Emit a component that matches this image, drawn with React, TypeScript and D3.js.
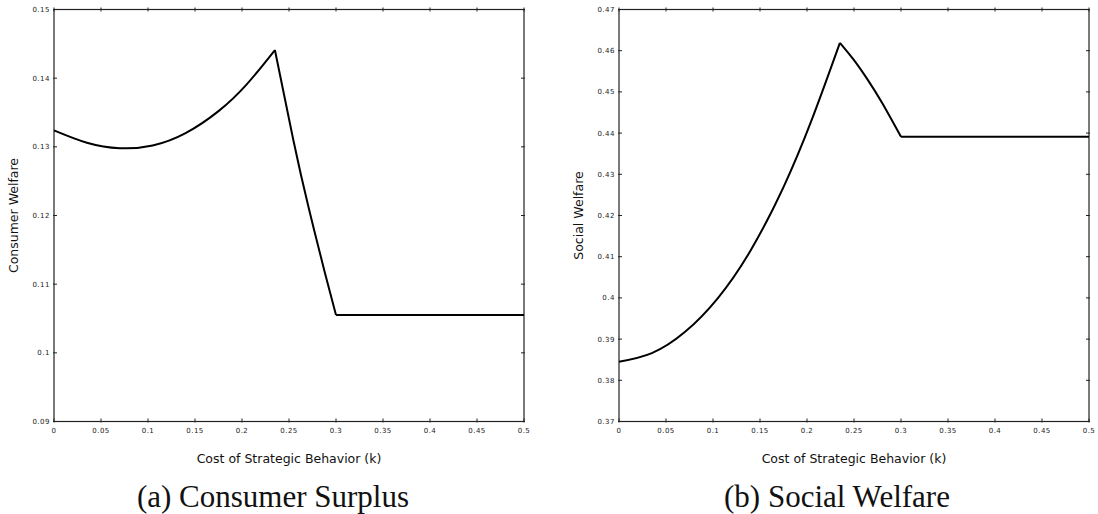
import React from 'react';
import * as d3 from 'd3';

// x axis (shared)
const kTicks = [0, 0.05, 0.1, 0.15, 0.2, 0.25, 0.3, 0.35, 0.4, 0.45, 0.5];
const kTickLabels = ['0', '0.05', '0.1', '0.15', '0.2', '0.25', '0.3', '0.35', '0.4', '0.45', '0.5'];

// y axes
const csTicks = [0.09, 0.1, 0.11, 0.12, 0.13, 0.14, 0.15];
const csTickLabels = ['0.09', '0.1', '0.11', '0.12', '0.13', '0.14', '0.15'];
const swTicks = [0.37, 0.38, 0.39, 0.4, 0.41, 0.42, 0.43, 0.44, 0.45, 0.46, 0.47];
const swTickLabels = ['0.37', '0.38', '0.39', '0.4', '0.41', '0.42', '0.43', '0.44', '0.45', '0.46', '0.47'];

// consumer surplus (three pieces: rise, drop, flat)
const csRiseK = [0, 0.035, 0.07, 0.105, 0.14, 0.175, 0.205, 0.235];
const csRise = [0.1324, 0.1306, 0.1298, 0.1302, 0.132, 0.1352, 0.1391, 0.1441];
const csFallK = [0.235, 0.2546, 0.2706, 0.2883, 0.3];
const csFall = [0.1441, 0.131, 0.1213, 0.1116, 0.1055];
const csFlatK = [0.3, 0.5];
const csFlat = [0.1055, 0.1055];

// social welfare
const swRiseK = [0, 0.035, 0.07, 0.105, 0.14, 0.175, 0.205, 0.235];
const swRise = [0.3845, 0.3866, 0.3917, 0.3999, 0.4115, 0.4269, 0.4432, 0.4619];
const swFallK = [0.235, 0.25, 0.265, 0.28, 0.3];
const swFall = [0.4619, 0.4577, 0.4528, 0.4473, 0.4391];
const swFlatK = [0.3, 0.5];
const swFlat = [0.4391, 0.4391];

type Seg = { k: number[]; v: number[] };

const tickFont = { fontFamily: 'DejaVu Sans', fontSize: 7, letterSpacing: 0.5, fill: '#222' };
const labelFont = { fontFamily: 'DejaVu Sans', fontSize: 12.5, fill: '#111' };

const Panel = ({ left, right, top, bottom, yDomain, yTicks, yTickLabels, yLabel, yLabelX, caption, captionX, segments }: any) => {
  const x = d3.scaleLinear().domain([0, 0.5]).range([left, right]);
  const y = d3.scaleLinear().domain(yDomain).range([bottom, top]);
  const line = d3.line<[number, number]>()
    .x(d => x(d[0]))
    .y(d => y(d[1]))
    .curve(d3.curveNatural);

  return (
    <g>
      {/* frame */}
      <rect x={left} y={top} width={right - left} height={bottom - top} fill="none" stroke="#222" strokeWidth={1.2} />

      {/* x ticks, top and bottom */}
      {kTicks.map((t, i) => (
        <g key={'x' + i}>
          <line x1={x(t)} x2={x(t)} y1={bottom + 1} y2={bottom - 3} stroke="#222" strokeWidth={1} />
          <line x1={x(t)} x2={x(t)} y1={top - 2} y2={top + 2} stroke="#222" strokeWidth={1} />
          <text x={x(t)} y={bottom + 11} textAnchor="middle" style={tickFont}>{kTickLabels[i]}</text>
        </g>
      ))}

      {/* y ticks, left and right */}
      {yTicks.map((t: number, i: number) => (
        <g key={'y' + i}>
          <line x1={left - 1} x2={left + 3} y1={y(t)} y2={y(t)} stroke="#222" strokeWidth={1} />
          <line x1={right - 3} x2={right + 1} y1={y(t)} y2={y(t)} stroke="#222" strokeWidth={1} />
          <text x={left - 4} y={y(t)} dy="0.35em" textAnchor="end" style={tickFont}>{yTickLabels[i]}</text>
        </g>
      ))}

      {segments.map((s: Seg, i: number) => (
        <path key={'s' + i} d={line(s.k.map((k, j) => [k, s.v[j]]) as [number, number][]) || ''}
          fill="none" stroke="#000" strokeWidth={2} strokeLinejoin="round" />
      ))}

      <text x={(left + right) / 2} y={463} textAnchor="middle" style={labelFont}>Cost of Strategic Behavior (k)</text>
      <text transform={`translate(${yLabelX},${(top + bottom) / 2}) rotate(-90)`} textAnchor="middle" style={labelFont}>{yLabel}</text>
      <text x={captionX} y={507} textAnchor="middle"
        style={{ fontFamily: 'Liberation Serif', fontSize: 31, fill: '#111' }}>{caption}</text>
    </g>
  );
};

export default function App() {
  return (
    <svg width={1098} height={514} style={{ position: 'absolute', left: 0, top: 0, background: '#fff' }}>
      <Panel left={54} right={524} top={9.5} bottom={421.5}
        yDomain={[0.09, 0.15]} yTicks={csTicks} yTickLabels={csTickLabels}
        yLabel="Consumer Welfare" yLabelX={17.5}
        caption="(a) Consumer Surplus" captionX={273}
        segments={[{ k: csRiseK, v: csRise }, { k: csFallK, v: csFall }, { k: csFlatK, v: csFlat }]} />
      <Panel left={619} right={1089} top={9.5} bottom={421.5}
        yDomain={[0.37, 0.47]} yTicks={swTicks} yTickLabels={swTickLabels}
        yLabel="Social Welfare" yLabelX={582.5}
        caption="(b) Social Welfare" captionX={837}
        segments={[{ k: swRiseK, v: swRise }, { k: swFallK, v: swFall }, { k: swFlatK, v: swFlat }]} />
    </svg>
  );
}
